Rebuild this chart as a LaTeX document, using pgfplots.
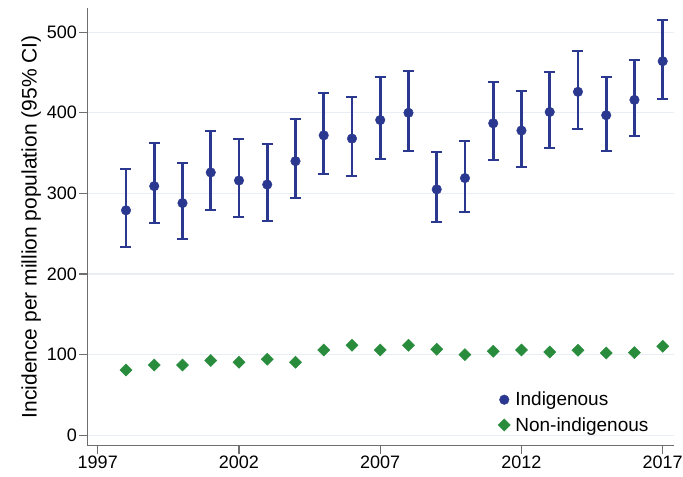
\documentclass[border=0pt]{standalone}
\usepackage{fontspec}
\setmainfont{Liberation Sans}
\usepackage{pgfplots}
\usepackage{pgfplotstable}
\pgfplotsset{compat=1.18}
\definecolor{navy}{RGB}{42,56,143}
\definecolor{grn}{RGB}{40,140,60}
\definecolor{gridc}{RGB}{232,238,243}
\definecolor{axc}{RGB}{110,110,110}
\pgfplotstableread{
year v hi lo
1998 279 330 234
1999 309 362 263
2000 288 338 244
2001 326 378 279
2002 316 367 271
2003 311 361 266
2004 340 392 294
2005 372 425 324
2006 368 420 321
2007 391 444 343
2008 400 452 352
2009 305 351 264
2010 319 365 277
2011 387 438 341
2012 378 427 333
2013 401 451 356
2014 426 477 380
2015 397 445 352
2016 416 465 371
2017 464 515 417
}\indig
\pgfplotstableread{
year v
1998 81
1999 87
2000 87
2001 92.6
2002 90.6
2003 94.3
2004 90.6
2005 105.8
2006 111.6
2007 105.8
2008 111.6
2009 106.7
2010 100
2011 104.2
2012 105.8
2013 103.3
2014 105.4
2015 102
2016 102.5
2017 110.4
}\nonindig
\newcommand\fs{\fontsize{18bp}{21bp}\selectfont}
\newcommand\fl{\fontsize{19bp}{22bp}\selectfont}
\newcommand\fy{\fontsize{21bp}{24bp}\selectfont}
\begin{document}
\begin{tikzpicture}
\useasboundingbox (-87.3bp,-31.3bp) rectangle (595.7bp,445.7bp);
\begin{axis}[
  at={(0,0)}, anchor=south west,
  scale only axis, width=586.7bp, height=437.7bp,
  xmin=1996.63, xmax=2017.4, ymin=-13, ymax=530,
  axis x line*=bottom, axis y line*=left,
  axis line style={axc, line width=1.2bp, -},
  xtick={1997,2002,2007,2012,2017},
  ytick={0,100,200,300,400,500},
  tick style={axc, line width=1.2bp},
  major tick length=8bp,
  tick align=outside,
  ymajorgrids, grid style={gridc, line width=1.3bp},
  /pgf/number format/assume math mode=true,
  /pgf/number format/1000 sep={},
  tick label style={font=\fs},
  yticklabel style={xshift=1bp},
  xticklabel style={yshift=1bp},
  ylabel={Incidence per million population (95\% CI)},
  ylabel style={font=\fy, yshift=-1bp},
  legend style={draw=none, fill=none, font=\fl, at={(0.70,0.025)}, anchor=south west,
    row sep=6bp, inner sep=0pt, nodes={inner xsep=5bp},
    /tikz/every even column/.append style={column sep=8bp}},
  legend cell align=left,
]
\addplot[only marks, mark=*, mark size=4.8bp, color=navy,
  error bars/.cd, y dir=both, y explicit,
  error bar style={line width=2.8bp, navy},
  error mark options={rotate=90, mark size=5.5bp, line width=2bp, navy}]
  table[x=year, y=v, y error plus expr=\thisrow{hi}-\thisrow{v}, y error minus expr=\thisrow{v}-\thisrow{lo}] {\indig};
\addlegendentry{Indigenous}
\addplot[only marks, mark=square*, mark size=4.3bp, mark options={rotate=45}, color=grn]
  table[x=year, y=v] {\nonindig};
\addlegendentry{Non-indigenous}
\end{axis}
\end{tikzpicture}
\end{document}
